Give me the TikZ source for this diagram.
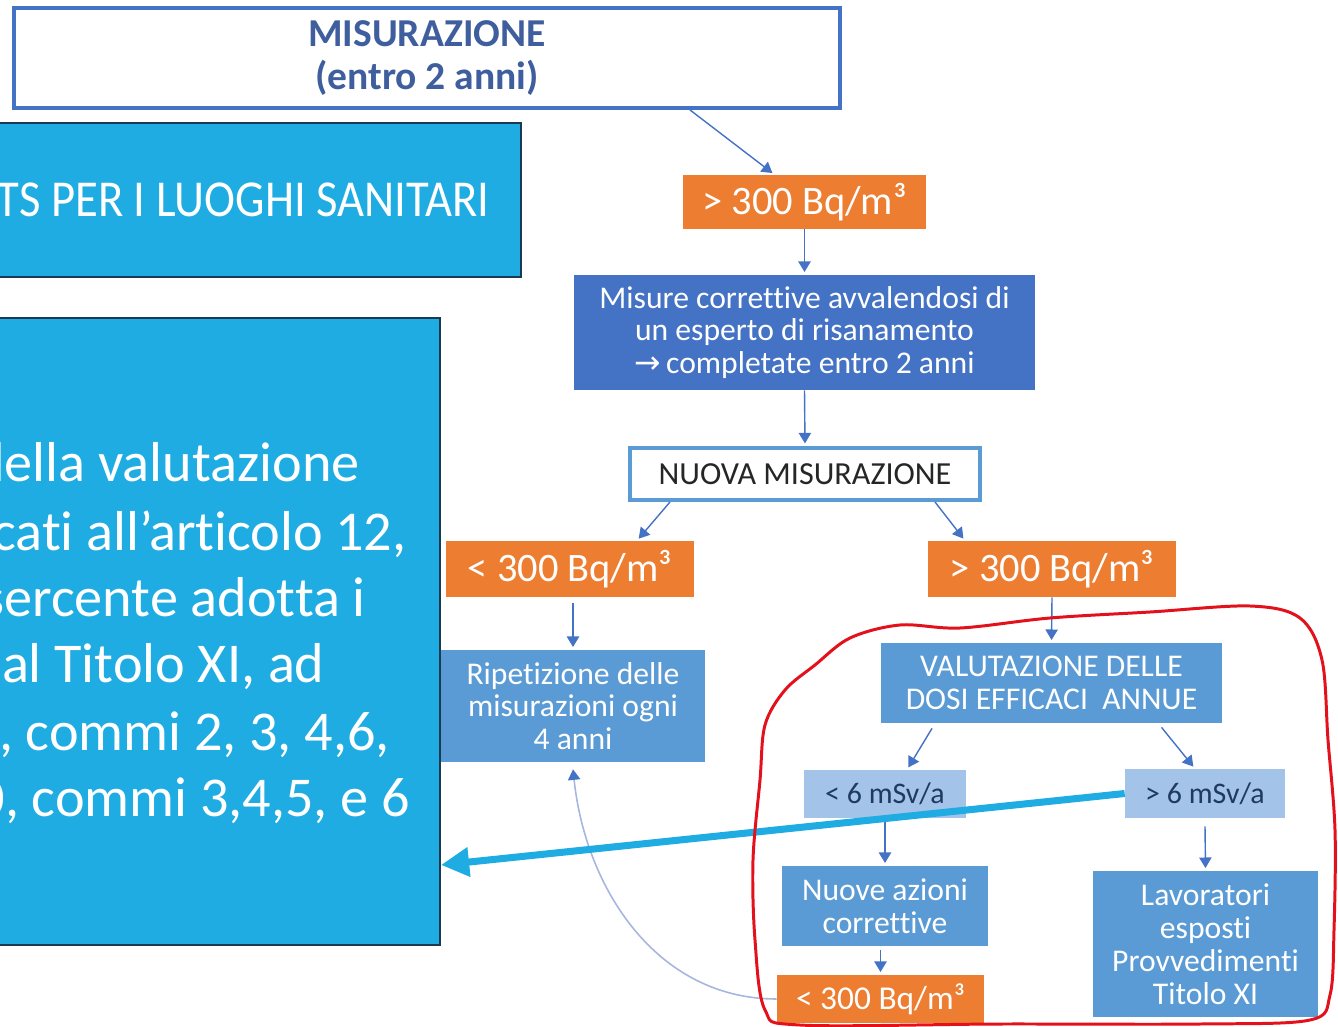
\documentclass[tikz,border=0pt]{standalone}
\usepackage{fontspec}
\setmainfont{Carlito}[Ligatures=NoCommon]
\newfontfamily\arrowfont{DejaVu Sans}
\usetikzlibrary{arrows.meta}
\definecolor{boxblue}{HTML}{4472C4}
\definecolor{midblue}{HTML}{5B9BD5}
\definecolor{paleblue}{HTML}{A4C3E8}
\definecolor{darknavy}{HTML}{1F3864}
\definecolor{orng}{HTML}{ED7D31}
\definecolor{cyanbox}{HTML}{1FACE2}
\definecolor{cyanedge}{HTML}{1B3A52}
\definecolor{titleblue}{HTML}{3F5E9E}
\definecolor{loopline}{HTML}{A6B6DE}
\definecolor{redline}{HTML}{E3111C}
\begin{document}
\begin{tikzpicture}[x=0.02cm,y=-0.02cm,
    box/.style={inner sep=0pt,align=center,text=white},
    orangebox/.style={box,fill=orng,font=\fontsize{23}{26}\selectfont},
    bluebox/.style={box,fill=midblue,font=\fontsize{18}{18.7}\selectfont},
    arr/.style={draw=boxblue,line width=0.8pt,-{Triangle[width=7pt,length=6pt]},shorten >=1.5pt}]
\useasboundingbox (0,0) rectangle (1338,1027);
\clip (0,0) rectangle (1338,1027);

% left side
\node[draw=cyanedge,line width=1.2pt,fill=cyanbox,minimum width=10.62cm,minimum height=3.08cm] (tsbox) at (255.5,200) {};
\node[anchor=base east,inner sep=0pt,text=white,font=\fontsize{29.5}{34}\selectfont] (tstext) at (490,216)
    {\scalebox{0.9}[1]{TS PER I LUOGHI SANITARI}};
\node[draw=cyanedge,line width=1.2pt,fill=cyanbox,minimum width=9cm,minimum height=12.54cm] (bigbox) at (215,631.5) {};
\foreach \txt/\xr/\yb [count=\i] in {{della valutazione}/360/481, {cati all’articolo 12,}/407/550,
    {sercente adotta i}/366/616, {dal Titolo XI, ad}/325/682,
    {, commi 2, 3, 4,6,}/390/750, {0, commi 3,4,5, e 6}/410/816}
  \node[anchor=base east,inner sep=0pt,text=white,font=\fontsize{32}{38}\selectfont] (big\i) at (\xr,\yb) {\txt};

% flow chart
\node[draw=boxblue,line width=2.2pt,fill=white,minimum width=16.52cm,minimum height=2cm,align=center,
    text=titleblue,font=\fontsize{22.5}{24.5}\selectfont\bfseries] (misura) at (427,58) {MISURAZIONE\\(entro 2 anni)};
\node[orangebox,minimum width=4.86cm,minimum height=1.08cm] (o1) at (804.5,202) {> 300 Bq/m³};
\node[box,fill=boxblue,minimum width=9.22cm,minimum height=2.3cm,font=\fontsize{18}{18.7}\selectfont] (m) at (804.5,332.5)
    {Misure correttive avvalendosi di\\un esperto di risanamento\\{\arrowfont →}\,completate entro 2 anni};
\node[draw=midblue,line width=2.2pt,fill=white,inner sep=0pt,minimum width=7cm,minimum height=1.04cm,
    text=black!85,font=\fontsize{18.3}{20}\selectfont] (nuova) at (805,474) {NUOVA MISURAZIONE};
\node[orangebox,minimum width=4.96cm,minimum height=1.12cm] (o2) at (570,569) {< 300 Bq/m³};
\node[orangebox,minimum width=4.96cm,minimum height=1.12cm] (o3) at (1052,569) {> 300 Bq/m³};
\node[bluebox,minimum width=5.28cm,minimum height=2.24cm] (rip) at (573,706) {Ripetizione delle\\misurazioni ogni\\4 anni};
\node[bluebox,minimum width=6.82cm,minimum height=1.6cm] (val) at (1051.5,683) {VALUTAZIONE DELLE\\DOSI EFFICACI\ \ ANNUE};
\node[box,fill=paleblue,text=darknavy,minimum width=3.24cm,minimum height=0.96cm,font=\fontsize{17}{20}\selectfont] (lo6) at (885,794) {< 6 mSv/a};
\node[box,fill=paleblue,text=darknavy,minimum width=3.2cm,minimum height=0.98cm,font=\fontsize{17}{20}\selectfont] (hi6) at (1205,793.5) {> 6 mSv/a};
\node[bluebox,minimum width=4.12cm,minimum height=1.6cm] (nuove) at (885,906) {Nuove azioni\\correttive};
\node[orangebox,minimum width=4.14cm,minimum height=0.96cm,font=\fontsize{19}{22}\selectfont] (o4) at (880.5,999) {< 300 Bq/m³};
\node[bluebox,minimum width=4.5cm,minimum height=2.92cm] (lav) at (1205.5,944) {Lavoratori\\esposti\\Provvedimenti\\Titolo XI};

\draw[arr] ([xshift=5.26cm]misura.south) -- ([xshift=-0.6cm]o1.north);
\draw[arr] (o1.south) -- (m.north);
\draw[arr] (m.south) -- (nuova.north);
\draw[arr] ([xshift=-2.7cm]nuova.south) -- ([xshift=1.34cm]o2.north);
\draw[arr] ([xshift=2.6cm]nuova.south) -- ([xshift=-1.74cm]o3.north);
\draw[arr] ([yshift=-0.12cm]rip.north |- o2.south) -- (rip.north);
\draw[arr] (o3.south) -- (val.north);
\draw[arr] ([xshift=-2.39cm,yshift=-0.1cm]val.south) -- ([xshift=0.44cm]lo6.north);
\draw[arr] ([xshift=2.2cm,yshift=-0.08cm]val.south) -- ([xshift=-0.2cm]hi6.north);
\draw[arr] (lo6.south) -- (nuove.north);
\draw[arr] ([yshift=-0.08cm]o4.north |- nuove.south) -- (o4.north);
\draw[arr] ([yshift=-0.16cm]hi6.south) -- (lav.north);
\draw[draw=loopline,line width=0.9pt,-{Triangle[width=7pt,length=6pt,color=boxblue]}]
    (o4.west) to[out=180,in=-84] ([yshift=-0.14cm]rip.south);

% link to the text box
\draw[draw=cyanbox,line width=4pt,-{Triangle[width=16pt,length=16pt]}] (hi6.west) -- ([yshift=-4.67cm]bigbox.east);

% hand drawn mark
\draw[redline,line width=1.7pt] plot[smooth cycle,tension=0.55] coordinates {
    (850,638) (900,625) (960,628) (1050,618) (1150,612) (1250,606) (1300,618) (1322,660)
    (1328,740) (1335,830) (1334,930) (1330,995) (1310,1020) (1200,1024) (1000,1024)
    (800,1025) (765,1010) (755,940) (753,860) (760,780) (765,725) (785,690) (815,665)};
\end{tikzpicture}
\end{document}
